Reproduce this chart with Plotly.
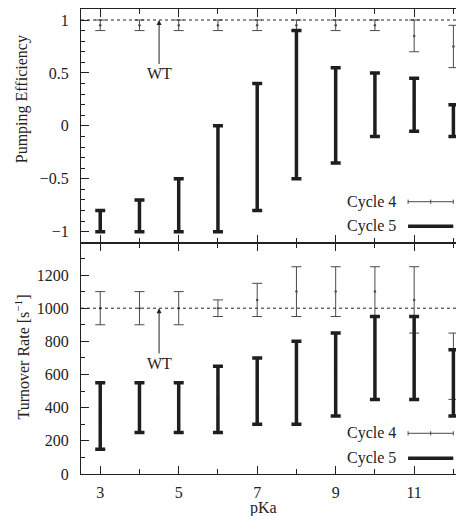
import plotly.graph_objects as go
from plotly.subplots import make_subplots

# ---- data ----
pka = [3, 4, 5, 6, 7, 8, 9, 10, 11, 12]

eff_c4_mid = [0.95, 0.95, 0.95, 0.95, 0.95, 0.95, 0.95, 0.95, 0.85, 0.75]
eff_c4_low = [0.9, 0.9, 0.9, 0.9, 0.9, 0.9, 0.9, 0.9, 0.7, 0.55]
eff_c4_high = [1.0, 1.0, 1.0, 1.0, 1.0, 1.0, 1.0, 1.0, 1.0, 0.95]

eff_c5_mid = [-0.9, -0.85, -0.75, -0.5, -0.2, 0.2, 0.1, 0.2, 0.2, 0.05]
eff_c5_low = [-1.0, -1.0, -1.0, -1.0, -0.8, -0.5, -0.35, -0.1, -0.05, -0.1]
eff_c5_high = [-0.8, -0.7, -0.5, 0.0, 0.4, 0.9, 0.55, 0.5, 0.45, 0.2]

rate_c4_mid = [1000, 1000, 1000, 1000, 1050, 1100, 1100, 1100, 1050, 650]
rate_c4_low = [900, 900, 900, 950, 950, 950, 950, 950, 850, 450]
rate_c4_high = [1100, 1100, 1100, 1050, 1150, 1250, 1250, 1250, 1250, 850]

rate_c5_mid = [350, 400, 400, 450, 500, 550, 600, 700, 700, 550]
rate_c5_low = [150, 250, 250, 250, 300, 300, 350, 450, 450, 350]
rate_c5_high = [550, 550, 550, 650, 700, 800, 850, 950, 950, 750]

wt_eff = 1.0
wt_rate = 1000
wt_pka = 4.5

FONT = "Liberation Serif, DejaVu Serif, serif"
THIN = "#4a4a4a"
THICK = "#1e1e1e"

fig = make_subplots(rows=2, cols=1, shared_xaxes=True, vertical_spacing=0)


def add_series(mid, low, high, row, color, thick):
    plus = [h - m for h, m in zip(high, mid)]
    minus = [m - l for m, l in zip(mid, low)]
    fig.add_trace(go.Scatter(
        x=pka, y=mid, mode="markers",
        marker=dict(size=2.5, color=color),
        error_y=dict(type="data", symmetric=False, array=plus, arrayminus=minus,
                     color=color, thickness=thick, width=5),
        showlegend=False, hoverinfo="skip"), row=row, col=1)


add_series(eff_c4_mid, eff_c4_low, eff_c4_high, 1, THIN, 1)
add_series(eff_c5_mid, eff_c5_low, eff_c5_high, 1, THICK, 3.5)
add_series(rate_c4_mid, rate_c4_low, rate_c4_high, 2, THIN, 1)
add_series(rate_c5_mid, rate_c5_low, rate_c5_high, 2, THICK, 3.5)

# WT reference lines
fig.add_hline(y=wt_eff, line=dict(color="#222", width=1, dash="dot"), row=1, col=1)
fig.add_hline(y=wt_rate, line=dict(color="#222", width=1, dash="dot"), row=2, col=1)

# WT arrows
for xr, yr, ytip, ytxt in [("x", "y", wt_eff, 0.49), ("x2", "y2", wt_rate, 667)]:
    fig.add_annotation(x=wt_pka, y=ytip, xref=xr, yref=yr, ax=wt_pka, ay=ytxt,
                       axref=xr, ayref=yr, text="WT", showarrow=True,
                       arrowhead=2, arrowsize=1, arrowwidth=1, arrowcolor="#222",
                       font=dict(family=FONT, size=16, color="#222"))

# manual legends
for yref, y4, y5 in [("y domain", 0.1754, 0.070), ("y2 domain", 0.176, 0.068)]:
    xref = "x domain" if yref == "y domain" else "x2 domain"
    for yy, label in [(y4, "Cycle 4"), (y5, "Cycle 5")]:
        fig.add_annotation(x=0.828, y=yy, xref=xref, yref=yref, text=label,
                           showarrow=False, xanchor="right", yanchor="middle",
                           font=dict(family=FONT, size=16, color="#222"))
    fig.add_shape(type="line", xref=xref, yref=yref, x0=0.854, x1=0.972, y0=y4, y1=y4,
                  line=dict(color=THIN, width=1))
    for xx in (0.854, 0.913, 0.972):
        fig.add_shape(type="line", xref=xref, yref=yref, x0=xx, x1=xx,
                      y0=y4 - 0.009, y1=y4 + 0.009, line=dict(color=THIN, width=1))
    fig.add_shape(type="line", xref=xref, yref=yref, x0=0.854, x1=0.972, y0=y5, y1=y5,
                  line=dict(color=THICK, width=3.5))

xcommon = dict(range=[2.51, 12.27], tick0=3, dtick=2, ticks="inside", ticklen=8,
               tickcolor="#222", showline=True, linecolor="#222", linewidth=1,
               mirror="ticks", showgrid=False, zeroline=False, automargin=False,
               minor=dict(dtick=1, tick0=3, ticks="inside", ticklen=5, tickcolor="#222"),
               tickfont=dict(family=FONT, size=16, color="#222"))
fig.update_xaxes(**xcommon)
fig.update_xaxes(showticklabels=False, row=1, col=1)
fig.update_xaxes(ticklabelstandoff=4, row=2, col=1)

fig.update_yaxes(range=[-1.104, 1.104], tickvals=[-1, -0.5, 0, 0.5, 1],
                 ticktext=["−1", "−0.5", "0", "0.5", "1"],
                 minor=dict(dtick=0.1, tick0=0, ticks="inside", ticklen=4, tickcolor="#222"),
                 row=1, col=1)
fig.update_yaxes(range=[0, 1395], tick0=0, dtick=200,
                 minor=dict(dtick=100, tick0=0, ticks="inside", ticklen=4, tickcolor="#222"),
                 row=2, col=1)
fig.update_yaxes(ticks="inside", ticklen=8, tickcolor="#222", showline=True,
                 linecolor="#222", linewidth=1, showgrid=False, zeroline=False,
                 ticklabelstandoff=8, automargin=False,
                 tickfont=dict(family=FONT, size=16, color="#222"))

fig.update_layout(yaxis=dict(domain=[0.4974, 1.0]), yaxis2=dict(domain=[0.0, 0.4974]))

# axis titles (figure is offset 8px by the page body margin)
fig.add_annotation(x=0.477, y=-0.073, xref="paper", yref="paper", text="pKa",
                   showarrow=False, xanchor="center", yanchor="middle",
                   font=dict(family=FONT, size=16, color="#222"))
fig.add_annotation(x=-0.154, y=0.806, xref="paper", yref="paper", text="Pumping Efficiency",
                   showarrow=False, textangle=-90, xanchor="center", yanchor="middle",
                   font=dict(family=FONT, size=16, color="#222"))
fig.add_annotation(x=-0.154, y=0.2505, xref="paper", yref="paper",
                   text="Turnover Rate [s<sup>−1</sup>]",
                   showarrow=False, textangle=-90, xanchor="center", yanchor="middle",
                   font=dict(family=FONT, size=16, color="#222"))

fig.update_layout(width=456, height=508, margin=dict(l=73, r=0, t=1, b=42, autoexpand=False),
                  paper_bgcolor="white", plot_bgcolor="white", showlegend=False)

fig.write_html("out.html")
